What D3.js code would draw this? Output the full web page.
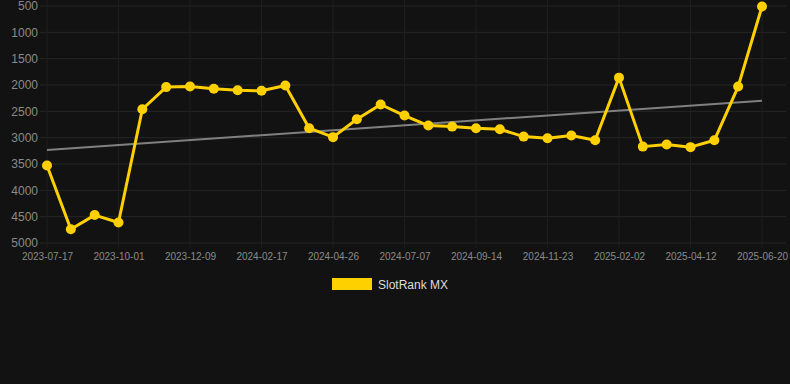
<!DOCTYPE html>
<html>
<head>
<meta charset="utf-8">
<script src="https://cdn.jsdelivr.net/npm/d3@7"></script>
<style>
  html, body { margin: 0; padding: 0; background: #121212; }
  body { width: 790px; height: 384px; overflow: hidden; font-family: Arial, "Liberation Sans", sans-serif; }
</style>
</head>
<body>
<div id="chart-area"></div>
<script>
const dates = ["2023-07-17", "2023-08-12", "2023-09-06", "2023-10-01", "2023-10-24", "2023-11-16",
               "2023-12-09", "2024-01-01", "2024-01-24", "2024-02-17", "2024-03-11", "2024-04-03",
               "2024-04-26", "2024-05-20", "2024-06-13", "2024-07-07", "2024-07-30", "2024-08-22",
               "2024-09-14", "2024-10-07", "2024-10-30", "2024-11-23", "2024-12-17", "2025-01-09",
               "2025-02-02", "2025-02-25", "2025-03-20", "2025-04-12", "2025-05-05", "2025-05-28",
               "2025-06-20"];
const ranks = [3530, 4740, 4470, 4610, 2460, 2040, 2030, 2070, 2100, 2110, 2010,
               2820, 2990, 2650, 2370, 2580, 2770, 2790, 2820, 2840, 2980, 3010, 2960,
               3050, 1860, 3170, 3130, 3180, 3050, 2030, 510];
const yTicks = [500, 1000, 1500, 2000, 2500, 3000, 3500, 4000, 4500, 5000];
const seriesName = "SlotRank MX";

const width = 790, height = 384;
const svg = d3.select("#chart-area").append("svg")
    .attr("width", width)
    .attr("height", height);

const x = d3.scalePoint().domain(dates).range([47, 762]);
const y = d3.scaleLinear().domain([500, 5000]).range([6, 243]);

// grid
svg.append("g")
    .selectAll("line.h")
    .data(yTicks).enter()
    .append("line")
        .attr("x1", 40).attr("x2", 786)
        .attr("y1", d => y(d)).attr("y2", d => y(d))
        .attr("stroke", "#262626").attr("stroke-width", 1);

const xTickVals = dates.filter((d, i) => i % 3 === 0);
svg.append("g")
    .selectAll("line.v")
    .data(xTickVals).enter()
    .append("line")
        .attr("x1", d => x(d)).attr("x2", d => x(d))
        .attr("y1", 0).attr("y2", 248)
        .attr("stroke", "#1f1f1f").attr("stroke-width", 1);

// axes
const yAxis = svg.append("g")
    .attr("transform", "translate(38,0)")
    .call(d3.axisLeft(y).tickValues(yTicks).tickFormat(d3.format("d")).tickSize(0).tickPadding(0));
yAxis.select(".domain").remove();
yAxis.selectAll("text")
    .attr("fill", "#8a8a8a")
    .style("font-size", "12px")
    .style("font-family", "Arial, 'Liberation Sans', sans-serif");

const xAxis = svg.append("g")
    .attr("transform", "translate(0,253)")
    .call(d3.axisBottom(x).tickValues(xTickVals).tickSize(0).tickPadding(0));
xAxis.select(".domain").remove();
xAxis.selectAll("text")
    .attr("fill", "#8a8a8a")
    .style("font-size", "10px")
    .style("font-family", "Arial, 'Liberation Sans', sans-serif");

// trend line (least squares over the series)
const n = ranks.length;
const idx = d3.range(n);
const mx = d3.mean(idx), my = d3.mean(ranks);
const slope = d3.sum(idx, i => (i - mx) * (ranks[i] - my)) / d3.sum(idx, i => (i - mx) ** 2);
const icpt = my - slope * mx;
svg.append("line")
    .attr("x1", x(dates[0])).attr("y1", y(icpt))
    .attr("x2", x(dates[n - 1])).attr("y2", y(icpt + slope * (n - 1)))
    .attr("stroke", "#808080").attr("stroke-width", 2);

// series
const line = d3.line()
    .x((d, i) => x(dates[i]))
    .y(d => y(d));

svg.append("path")
    .datum(ranks)
    .attr("d", line)
    .attr("fill", "none")
    .attr("stroke", "#ffd000")
    .attr("stroke-width", 3)
    .attr("stroke-linejoin", "round");

svg.selectAll("circle")
    .data(ranks).enter()
    .append("circle")
        .attr("cx", (d, i) => x(dates[i]))
        .attr("cy", d => y(d))
        .attr("r", 5)
        .attr("fill", "#ffd000");

// legend
svg.append("rect")
    .attr("x", 332).attr("y", 278)
    .attr("width", 40).attr("height", 12)
    .attr("fill", "#ffd000");
svg.append("text")
    .attr("x", 378).attr("y", 288.5)
    .attr("fill", "#dddddd")
    .style("font-size", "12px")
    .text(seriesName);
</script>
</body>
</html>
